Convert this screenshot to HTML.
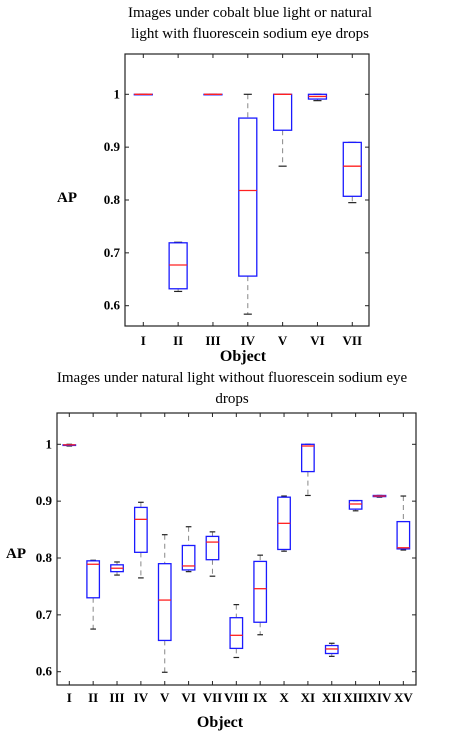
<!DOCTYPE html>
<html><head><meta charset="utf-8">
<style>
html,body{margin:0;padding:0;background:#fff;}
svg{display:block;font-family:"Liberation Serif",serif;}
</style></head>
<body>
<svg id="c" width="451" height="736" viewBox="0 0 451 736">
<text x="250" y="17" font-size="15" text-anchor="middle">Images under cobalt blue light or natural</text>
<text x="250" y="38" font-size="15" text-anchor="middle">light with fluorescein sodium eye drops</text>
<text x="67" y="202" font-size="15" font-weight="bold" text-anchor="middle">AP</text>
<text x="243" y="361" font-size="16" font-weight="bold" text-anchor="middle">Object</text>
<text x="232" y="382" font-size="15" text-anchor="middle">Images under natural light without fluorescein sodium eye</text>
<text x="232" y="403" font-size="15" text-anchor="middle">drops</text>
<text x="16" y="558" font-size="15" font-weight="bold" text-anchor="middle">AP</text>
<text x="220" y="727" font-size="16" font-weight="bold" text-anchor="middle">Object</text>
</svg>
<script>
// Top chart data
const topCats = ["I","II","III","IV","V","VI","VII"];
const topLow = [1, 0.627, 1, 0.584, 0.864, 0.988, 0.795];
const topQ1  = [1, 0.632, 1, 0.656, 0.932, 0.991, 0.807];
const topMed = [1, 0.677, 1, 0.818, 1.0, 0.996, 0.864];
const topQ3  = [1, 0.719, 1, 0.955, 1.0, 1.0, 0.909];
const topHigh= [1, 0.720, 1, 1.0, 1.0, 1.0, 0.909];
const topTicks = [0.6, 0.7, 0.8, 0.9, 1];
const topTickLabels = ["0.6","0.7","0.8","0.9","1"];
// Bottom chart data
const botCats = ["I","II","III","IV","V","VI","VII","VIII","IX","X","XI","XII","XIII","XIV","XV"];
const botLow = [0.997,0.675,0.770,0.765,0.599,0.776,0.768,0.625,0.665,0.812,0.910,0.627,0.883,0.907,0.814];
const botQ1  = [0.998,0.730,0.776,0.810,0.655,0.779,0.797,0.641,0.687,0.815,0.952,0.632,0.886,0.908,0.816];
const botMed = [0.999,0.789,0.782,0.868,0.726,0.786,0.828,0.664,0.746,0.861,0.997,0.640,0.895,0.909,0.818];
const botQ3  = [0.999,0.795,0.788,0.889,0.790,0.822,0.838,0.695,0.794,0.907,1.000,0.646,0.901,0.910,0.864];
const botHigh= [1.000,0.796,0.793,0.898,0.841,0.855,0.846,0.718,0.805,0.909,1.000,0.650,0.901,0.910,0.909];
const botTicks = [0.6, 0.7, 0.8, 0.9, 1];
const botTickLabels = ["0.6","0.7","0.8","0.9","1"];

const svg = document.getElementById('c');
const NS = "http://www.w3.org/2000/svg";
function mk(tag, attrs, parent){ const e=document.createElementNS(NS,tag); for(const k in attrs) e.setAttribute(k,attrs[k]); (parent||svg).appendChild(e); return e; }

function drawChart(prefix, cfg, cats, lo, q1, md, q3, hi, ticks, tlabels){
  const g = mk('g',{});
  
  
  const y = v => cfg.y1 + (cfg.v1 - v) * (cfg.y0 - cfg.y1) / (cfg.v1 - cfg.v0);
  const x = i => cfg.c0 + i * cfg.step;
  const frame = mk('rect',{x:cfg.L,y:cfg.T,width:cfg.R-cfg.L,height:cfg.B-cfg.T,fill:'none',stroke:'#222','stroke-width':1.2},g);
  
  
  ticks.forEach((t,k)=>{
    const yy=y(t);
    mk('line',{x1:cfg.L,x2:cfg.L+4,y1:yy,y2:yy,stroke:'#222'},g);
    mk('line',{x1:cfg.R,x2:cfg.R-4,y1:yy,y2:yy,stroke:'#222'},g);
    const tx = mk('text',{x:cfg.L-5-(cfg.lblOff||0),y:yy+4,'font-size':13,'font-weight':'bold','text-anchor':'end'},g);
    tx.textContent = tlabels[k];
    
    
  });
  cats.forEach((c,i)=>{
    const xx=x(i), w=cfg.bw/2;
    mk('line',{x1:xx,x2:xx,y1:cfg.B,y2:cfg.B-4,stroke:'#222'},g);
    mk('line',{x1:xx,x2:xx,y1:cfg.T,y2:cfg.T+4,stroke:'#222'},g);
    const tx = mk('text',{x:xx,y:cfg.B+cfg.lblY,'font-size':cfg.fs,'font-weight':'bold','text-anchor':'middle'},g);
    tx.textContent = c;
    
    
    const bg = mk('g',{},g);
    
    
    mk('line',{x1:xx,x2:xx,y1:y(hi[i]),y2:y(q3[i]),stroke:'#888','stroke-dasharray':'5,4'},bg);
    mk('line',{x1:xx,x2:xx,y1:y(q1[i]),y2:y(lo[i]),stroke:'#888','stroke-dasharray':'5,4'},bg);
    mk('line',{x1:xx-w*0.45,x2:xx+w*0.45,y1:y(hi[i]),y2:y(hi[i]),stroke:'#222','stroke-width':1.2},bg);
    mk('line',{x1:xx-w*0.45,x2:xx+w*0.45,y1:y(lo[i]),y2:y(lo[i]),stroke:'#222','stroke-width':1.2},bg);
    mk('rect',{x:xx-w,y:y(q3[i]),width:2*w,height:Math.max(0.5,y(q1[i])-y(q3[i])),fill:'none',stroke:'#1a1aff','stroke-width':1.3},bg);
    mk('line',{x1:xx-w,x2:xx+w,y1:y(md[i]),y2:y(md[i]),stroke:'#ff2020','stroke-width':1.3},bg);
  });
}
drawChart('top',{L:125,R:369,T:54,B:326,v0:0.6,v1:1,y0:305.7,y1:94.3,c0:143.3,step:34.83,bw:18,lblY:19,fs:13},
  topCats,topLow,topQ1,topMed,topQ3,topHigh,topTicks,topTickLabels);
drawChart('bottom',{L:57,R:416,T:413,B:685,v0:0.6,v1:1,y0:671.7,y1:444.3,c0:69.3,step:23.86,bw:12.5,lblY:17,fs:13},
  botCats,botLow,botQ1,botMed,botQ3,botHigh,botTicks,botTickLabels);
</script>
</body></html>
